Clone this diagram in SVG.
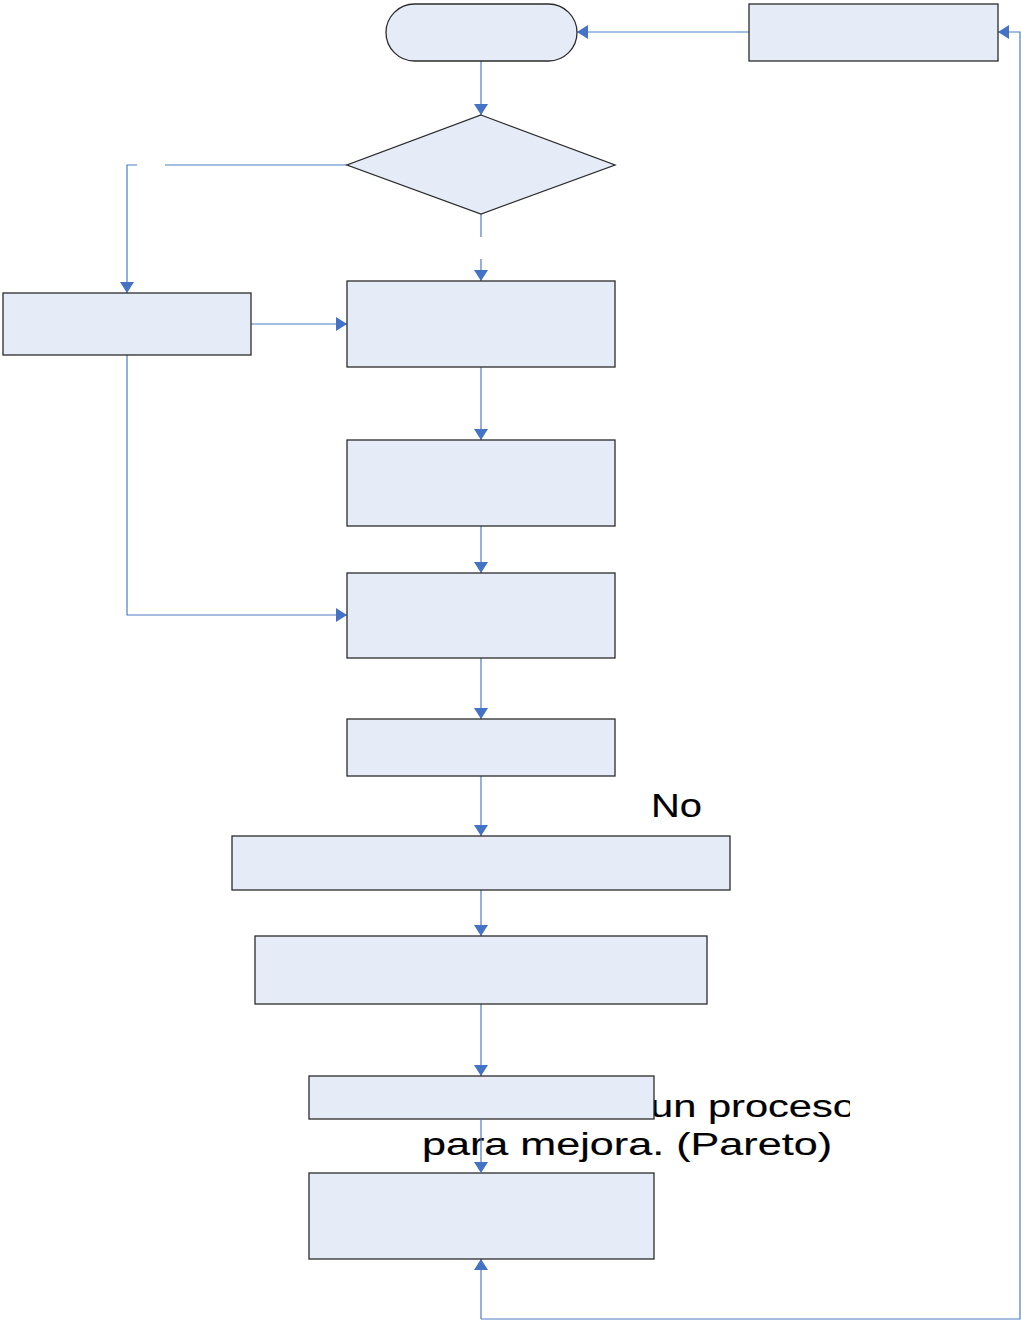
<svg xmlns="http://www.w3.org/2000/svg" width="1021" height="1321" viewBox="0 0 1021 1321">
  <defs>
    <marker id="arrow" viewBox="0 0 11 14" refX="11" refY="7" markerWidth="11" markerHeight="14" markerUnits="userSpaceOnUse" orient="auto">
      <path d="M0,0 L11,7 L0,14 Z" fill="#4472c4"/>
    </marker>
    <clipPath id="textClip">
      <rect x="0" y="0" width="850" height="1321"/>
    </clipPath>
  </defs>
  <style>
    .node { fill: #e6ecf7; stroke: #2b2b2b; stroke-width: 1.3; }
    .link { fill: none; stroke: #4a7cc4; stroke-width: 1.2; }
    .arrow { marker-end: url(#arrow); }
    .label { font-family: "Liberation Sans", Arial, sans-serif; fill: #000000; stroke: #000000; stroke-width: 0.15; }
  </style>
  <rect width="1021" height="1321" fill="#ffffff"/>

  <!-- free-standing labels -->
  <g id="labels">
    <text class="label" x="651" y="817" font-size="33" textLength="51" lengthAdjust="spacingAndGlyphs">No</text>
    <g clip-path="url(#textClip)">
      <text class="label" x="650" y="1117" font-size="32" textLength="206" lengthAdjust="spacingAndGlyphs">un proceso</text>
    </g>
    <text class="label" x="422" y="1155" font-size="32" textLength="410" lengthAdjust="spacingAndGlyphs">para mejora. (Pareto)</text>
  </g>

  <!-- connectors -->
  <g id="connectors">
    <path class="link arrow" d="M749,32 H577"/>
    <path class="link arrow" d="M481,61 V115"/>
    <path class="link" d="M481,214 V237"/>
    <path class="link arrow" d="M481,259 V281"/>
    <path class="link" d="M347,165 H165"/>
    <path class="link arrow" d="M137,165 H127 V293"/>
    <path class="link arrow" d="M251,324 H347"/>
    <path class="link arrow" d="M481,367 V440"/>
    <path class="link arrow" d="M481,526 V573"/>
    <path class="link arrow" d="M127,355 V615 H347"/>
    <path class="link arrow" d="M481,658 V719"/>
    <path class="link arrow" d="M481,776 V836"/>
    <path class="link arrow" d="M481,890 V936"/>
    <path class="link arrow" d="M481,1004 V1076"/>
    <path class="link arrow" d="M481,1319 V1259"/>
    <path class="link arrow" d="M481,1319 H1020 V32 H998"/>
  </g>

  <!-- nodes -->
  <g id="start"><rect class="node" x="386" y="4" width="191" height="57" rx="28.5"/></g>
  <g id="feedback"><rect class="node" x="749" y="4" width="249" height="57"/></g>
  <g id="decision"><polygon class="node" points="481,115 615,165 481,214 347,165"/></g>
  <g id="side-step"><rect class="node" x="3" y="293" width="248" height="62"/></g>
  <g id="step-1"><rect class="node" x="347" y="281" width="268" height="86"/></g>
  <g id="step-2"><rect class="node" x="347" y="440" width="268" height="86"/></g>
  <g id="step-3"><rect class="node" x="347" y="573" width="268" height="85"/></g>
  <g id="step-4"><rect class="node" x="347" y="719" width="268" height="57"/></g>
  <g id="step-5"><rect class="node" x="232" y="836" width="498" height="54"/></g>
  <g id="step-6"><rect class="node" x="255" y="936" width="452" height="68"/></g>
  <g id="step-7"><rect class="node" x="309" y="1076" width="345" height="43"/></g>
  <g id="step-8"><rect class="node" x="309" y="1173" width="345" height="86"/></g>

  <!-- connector crossing the label below step 7 -->
  <g id="connectors-over">
    <path class="link arrow" d="M481,1119 V1173"/>
  </g>
</svg>
